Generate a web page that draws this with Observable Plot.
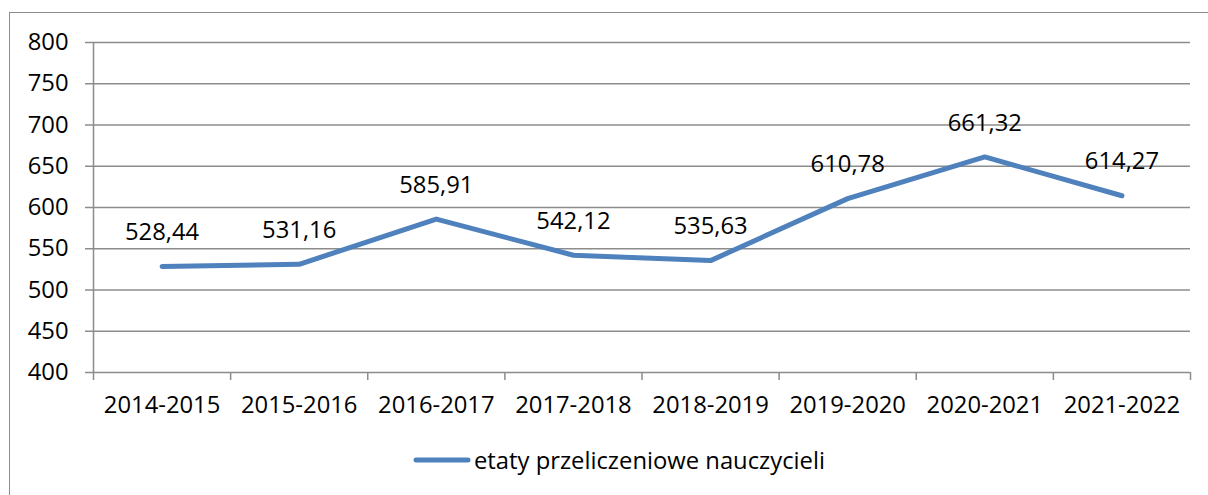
<!DOCTYPE html>
<html>
<head>
<meta charset="utf-8">
<script src="https://cdn.jsdelivr.net/npm/d3@7"></script>
<script src="https://cdn.jsdelivr.net/npm/@observablehq/plot@0.6"></script>
<style>
  html, body { margin: 0; padding: 0; background: #fff; overflow: hidden; width: 1208px; height: 495px; }
  #frame { position: absolute; left: 9px; top: 12px; width: 1400px; height: 700px; border: 1.5px solid #8c8c8c; box-sizing: border-box; pointer-events: none; }
  #chart { position: absolute; left: 0; top: 0; }
  #legend { position: absolute; left: 0; top: 430px; width: 1208px; height: 65px; display: flex; align-items: center; padding-left: 413px; box-sizing: border-box; font-family: "Open Sans", sans-serif; font-size: 23.8px; color: #000; margin-top: -3px; }
  #legend svg { margin-right: 3px; }
</style>
</head>
<body>
<div id="frame"></div>
<div id="chart"></div>
<div id="legend"></div>
<script>
const categories = ["2014-2015", "2015-2016", "2016-2017", "2017-2018", "2018-2019", "2019-2020", "2020-2021", "2021-2022"];
const values = [528.44, 531.16, 585.91, 542.12, 535.63, 610.78, 661.32, 614.27];
const valueLabels = ["528,44", "531,16", "585,91", "542,12", "535,63", "610,78", "661,32", "614,27"];
const yTicks = [400, 450, 500, 550, 600, 650, 700, 750, 800];
const seriesName = "etaty przeliczeniowe nauczycieli";

const color = "#4F81BD";
const gridColor = "#8c8c8c";
const fs = 23.8;

const data = categories.map((c, i) => ({i, cat: c, v: values[i], label: valueLabels[i]}));
const idx = categories.map((_, i) => i);
const bounds = [...idx.map(i => i - 0.5), categories.length - 0.5];

const chart = Plot.plot({
  width: 1208,
  height: 430,
  marginLeft: 93,
  marginRight: 18,
  marginTop: 42,
  marginBottom: 58,
  style: { fontFamily: "'Open Sans', sans-serif", fontSize: fs + "px", color: "#000", background: "transparent" },
  x: { type: "linear", domain: [-0.5, categories.length - 0.5] },
  y: { domain: [400, 800] },
  marks: [
    Plot.gridY(yTicks, { stroke: gridColor, strokeOpacity: 1, strokeWidth: 1.5 }),
    Plot.axisY(yTicks, { tickSize: 8, tickPadding: 17, stroke: gridColor, strokeWidth: 1.5, label: null, fontSize: fs, fill: "#000" }),
    Plot.ruleX([-0.5], { stroke: gridColor, strokeWidth: 1.5 }),
    Plot.axisX(bounds, { tickSize: 8, tickFormat: () => "", stroke: gridColor, strokeWidth: 1.5, label: null }),
    Plot.axisX(idx, { tickSize: 0, tickPadding: 24, tickFormat: i => categories[i], label: null, fontSize: fs, fill: "#000" }),
    Plot.line(data, { x: "i", y: "v", stroke: color, strokeWidth: 5, strokeLinejoin: "round", strokeLinecap: "round" }),
    Plot.text(data, { x: "i", y: "v", text: "label", dy: -34, fontSize: fs, fill: "#000" })
  ]
});
document.getElementById("chart").appendChild(chart);

const legend = document.getElementById("legend");
legend.innerHTML = `<svg width="58" height="10"><line x1="3" y1="5" x2="55" y2="5" stroke="${color}" stroke-width="5" stroke-linecap="round"/></svg><span>${seriesName}</span>`;
</script>
</body>
</html>
